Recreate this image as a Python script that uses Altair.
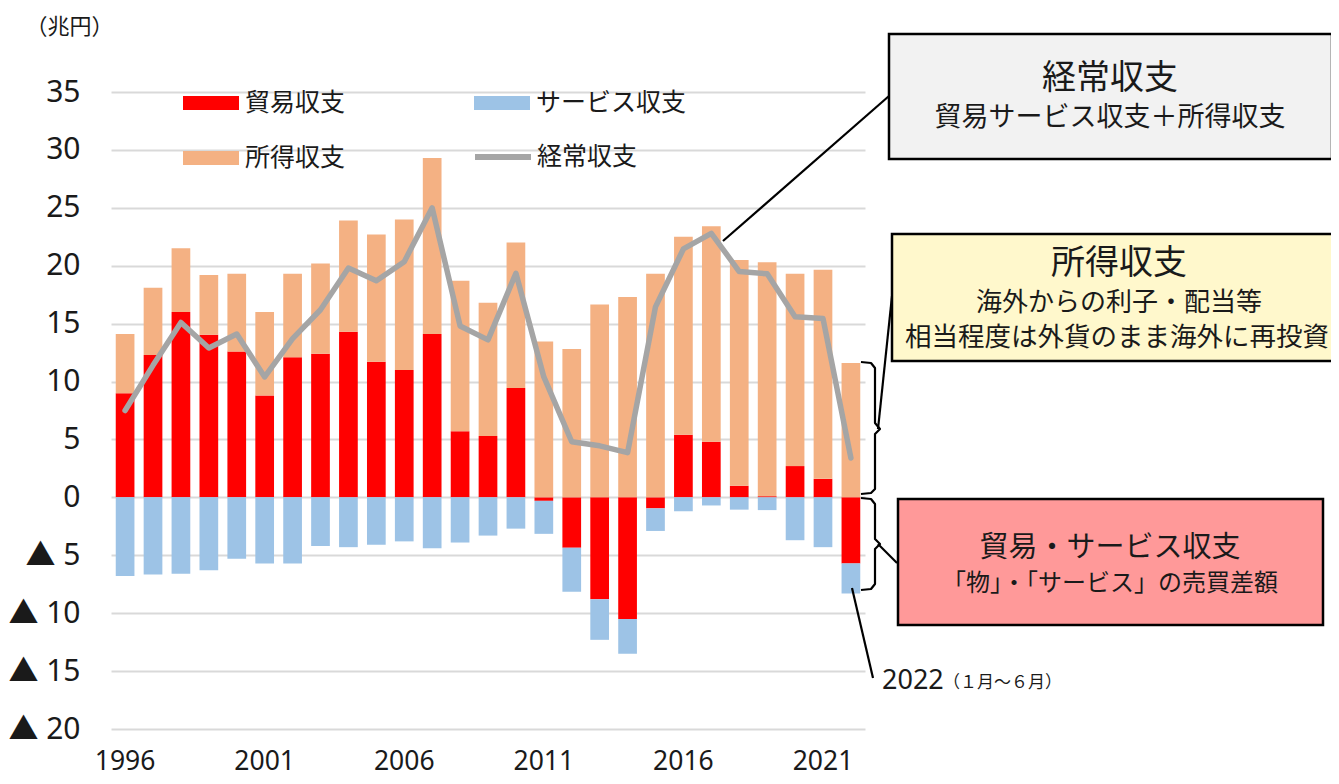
import altair as alt
import pandas as pd

# ---------------- data (兆円) ----------------
years = list(range(1996, 2023))
trade = [9.0, 12.3, 16.0, 14.05, 12.6, 8.8, 12.1, 12.4, 14.3, 11.7, 11.0, 14.1, 5.7, 5.3,
         9.45, -0.3, -4.35, -8.8, -10.5, -0.95, 5.4, 4.8, 1.0, 0.1, 2.7, 1.6, -5.7]
services = [-6.8, -6.65, -6.6, -6.3, -5.3, -5.7, -5.7, -4.2, -4.3, -4.1, -3.8, -4.4, -3.9, -3.3,
            -2.7, -2.85, -3.8, -3.5, -3.0, -1.95, -1.2, -0.7, -1.06, -1.1, -3.7, -4.3, -2.6]
income = [5.1, 5.8, 5.5, 5.15, 6.7, 7.2, 7.2, 7.8, 9.6, 11.0, 13.0, 15.2, 13.0, 11.5,
          12.55, 13.45, 12.8, 16.65, 17.3, 19.3, 17.1, 18.6, 19.5, 20.2, 16.6, 18.05, 11.6]
current = [7.5, 11.4, 15.1, 12.9, 14.1, 10.4, 13.7, 16.2, 19.8, 18.7, 20.35, 25.0, 14.8, 13.6,
           19.35, 10.4, 4.8, 4.45, 3.86, 16.45, 21.45, 22.8, 19.5, 19.3, 15.6, 15.45, 3.4]

# legend order (column-major: 貿易/所得 in column 1, サービス in column 2)
bar_series = ["貿易収支", "所得収支", "サービス収支"]
bar_colors = ["#FF0000", "#F4B183", "#9DC3E6"]
line_series = ["経常収支"]
line_colors = ["#A5A5A5"]
x_label_years = [1996, 2001, 2006, 2011, 2016, 2021]
y_ticks = list(range(-20, 40, 5))
unit_label = "（兆円）"

# ---------------- annotation layout (pixels, relative to plot origin) ----------------
box_x = [778, 781, 787]
box_x2 = [1221, 1241, 1212]
box_y = [-58, 142, 407]
box_y2 = [67, 269, 533]
box_fill = ["#F2F2F2", "#FFF8CC", "#FF9999"]

ctext = ["経常収支", "貿易サービス収支＋所得収支", "所得収支", "海外からの利子・配当等",
         "相当程度は外貨のまま海外に再投資", "貿易・サービス収支", "「物」・「サービス」の売買差額"]
ctext_x = [999, 999, 1008, 1008, 1006, 999, 999]
ctext_y = [-13, 26, 172, 211, 246, 456, 492]
ctext_fs = [34, 27, 34, 26, 26.5, 29, 24]

ltext = ["2022", "（１月～６月）"]
ltext_x = [771, 832]
ltext_y = [589, 591]
ltext_fs = [27, 17]

# connector / brace polylines
paths = {
    "conn1": [(612, 149), (778, 4)],
    "conn2": [(767, 337), (781, 204)],
    "conn3": [(767, 452), (786, 471)],
    "callout": [(741, 496), (762, 586)],
    "brace1": [(750, 270), (760, 271), (764, 276), (764, 331), (769, 337), (764, 342),
               (764, 397), (760, 401), (750, 402)],
    "brace2": [(750, 406), (760, 407), (764, 412), (764, 447), (769, 452), (764, 457),
               (764, 492), (760, 497), (750, 498)],
}

# ---------------- tables ----------------
order_of = {"貿易収支": 1, "サービス収支": 2, "所得収支": 3}
rows = []
for i, yr in enumerate(years):
    rows.append({"year": yr, "series": "貿易収支", "value": trade[i], "ord": order_of["貿易収支"]})
    rows.append({"year": yr, "series": "サービス収支", "value": services[i], "ord": order_of["サービス収支"]})
    rows.append({"year": yr, "series": "所得収支", "value": income[i], "ord": order_of["所得収支"]})
bars_df = pd.DataFrame(rows)
line_df = pd.DataFrame({"year": years, "value": current, "series": line_series[0]})

box_df = pd.DataFrame({"x": box_x, "x2": box_x2, "y": box_y, "y2": box_y2, "fill": box_fill})
ctext_df = pd.DataFrame({"t": ctext, "x": ctext_x, "y": ctext_y, "fs": ctext_fs})
ltext_df = pd.DataFrame({"t": ltext, "x": ltext_x, "y": ltext_y, "fs": ltext_fs})
prow = []
for pid, pts in paths.items():
    for k, (px, py) in enumerate(pts):
        prow.append({"id": pid, "k": k, "x": px, "y": py})
path_df = pd.DataFrame(prow)

LAT = "Noto Sans, Noto Sans CJK JP"
JP = "Noto Sans CJK JP"
TXT = "#1a1a1a"

rect_path = "M-2,-0.5H2V0.5H-2Z"
line_path = "M-2,0H2"

bar_legend = alt.Legend(
    title=None, orient="none", legendX=86, legendY=-3, columns=2, padding=0,
    symbolType=rect_path, symbolSize=784, labelFont=JP, labelFontSize=25, labelColor=TXT,
    labelOffset=20, columnPadding=128, rowPadding=28, symbolStrokeWidth=0, symbolOpacity=1,
)
line_legend = alt.Legend(
    title=None, orient="none", legendX=375, legendY=48, padding=0,
    symbolType=line_path, symbolSize=784, labelFont=JP, labelFontSize=25, labelColor=TXT,
    labelOffset=17, symbolStrokeWidth=6, symbolOpacity=1,
)

x_enc = alt.X("year:O", scale=alt.Scale(paddingInner=0.33, paddingOuter=0.17),
              axis=alt.Axis(values=x_label_years, title=None, labelAngle=0, ticks=False,
                            domain=False, grid=False, labelFontSize=26.5, labelPadding=19,
                            labelFont=LAT, labelColor=TXT))
y_scale = alt.Scale(domain=[-20, 35], nice=False, zero=False)
y_axis = alt.Axis(values=y_ticks, title=unit_label, titleAngle=0, titleAlign="left",
                  titleBaseline="middle", titleX=-86, titleY=-66, titleFont=JP,
                  titleFontSize=22, titleFontWeight="normal", titleColor=TXT,
                  labelExpr="datum.value < 0 ? '▲ ' + abs(datum.value) : '' + datum.value",
                  labelFont=LAT, labelFontSize=30, labelColor=TXT, labelPadding=31,
                  ticks=False, tickSize=0, domain=False, grid=True, gridColor="#D9D9D9",
                  gridWidth=2)

bars = alt.Chart(bars_df).mark_bar().encode(
    x=x_enc,
    y=alt.Y("value:Q", stack="zero", scale=y_scale, axis=y_axis),
    color=alt.Color("series:N", scale=alt.Scale(domain=bar_series, range=bar_colors),
                    legend=bar_legend),
    order=alt.Order("ord:Q", sort="ascending"),
)

line = alt.Chart(line_df).mark_line(strokeWidth=5.5, strokeJoin="round",
                                    strokeCap="round").encode(
    x=alt.X("year:O"),
    y=alt.Y("value:Q"),
    stroke=alt.Stroke("series:N", scale=alt.Scale(domain=line_series, range=line_colors),
                      legend=line_legend),
)

conn = alt.Chart(path_df).mark_line(color="#000000", strokeWidth=2.2, strokeJoin="round").encode(
    x=alt.X("x:Q", scale=None, axis=None),
    y=alt.Y("y:Q", scale=None, axis=None),
    detail="id:N",
    order="k:Q",
)

boxes = alt.Chart(box_df).mark_rect(stroke="#000000", strokeWidth=2.5).encode(
    x=alt.X("x:Q", scale=None, axis=None),
    x2="x2:Q",
    y=alt.Y("y:Q", scale=None, axis=None),
    y2="y2:Q",
    fill=alt.Fill("fill:N", scale=None, legend=None),
)

ctexts = alt.Chart(ctext_df).mark_text(font=JP, color=TXT, align="center",
                                       baseline="middle").encode(
    x=alt.X("x:Q", scale=None, axis=None),
    y=alt.Y("y:Q", scale=None, axis=None),
    text="t:N",
    size=alt.Size("fs:Q", scale=None, legend=None),
)

ltexts = alt.Chart(ltext_df).mark_text(font=LAT, color=TXT, align="left",
                                       baseline="middle").encode(
    x=alt.X("x:Q", scale=None, axis=None),
    y=alt.Y("y:Q", scale=None, axis=None),
    text="t:N",
    size=alt.Size("fs:Q", scale=None, legend=None),
)

chart = alt.layer(bars, line, conn, boxes, ctexts, ltexts).properties(
    width=754, height=637,
    padding={"left": 103, "top": 84, "right": 466, "bottom": 47},
    autosize=alt.AutoSizeParams(type="none"),
    background="white",
).configure_view(stroke=None)

chart.save("out.html", embed_options={"renderer": "svg", "actions": False})
